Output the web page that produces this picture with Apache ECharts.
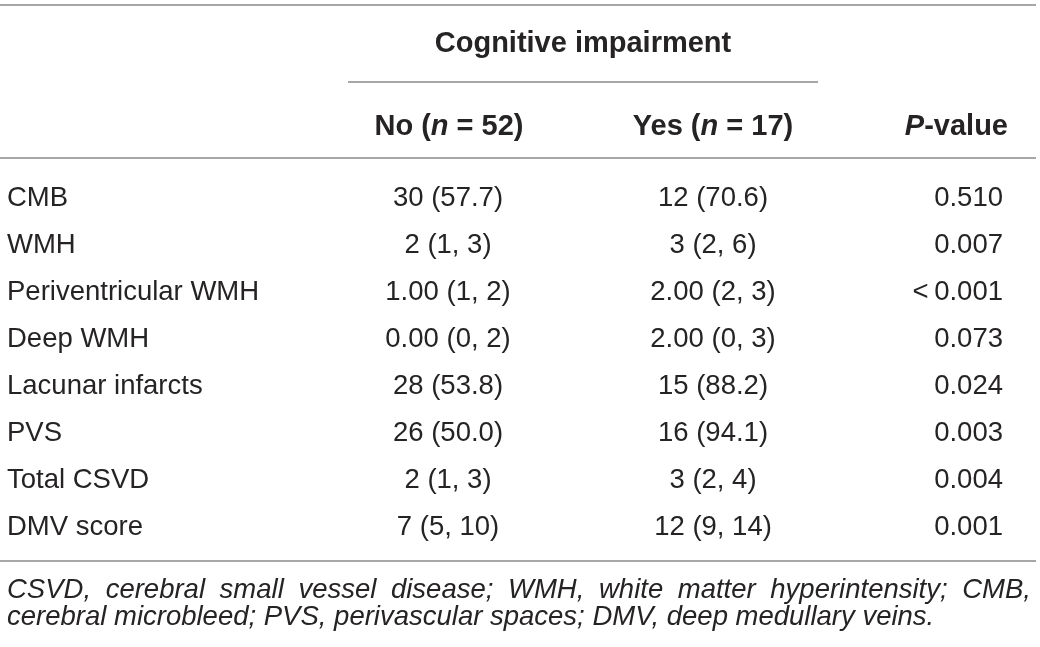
<!DOCTYPE html>
<html>
<head>
<meta charset="utf-8">
<script src="https://cdn.jsdelivr.net/npm/echarts@6/dist/echarts.min.js"></script>
<style>
  html, body { margin: 0; padding: 0; background: #fff; }
  #table_chart { width: 1040px; height: 647px; }
</style>
</head>
<body>
<div id="table_chart"></div>
<script>
// table content
const rowLabels = ['CMB', 'WMH', 'Periventricular WMH', 'Deep WMH', 'Lacunar infarcts', 'PVS', 'Total CSVD', 'DMV score'];
const noValues = ['30 (57.7)', '2 (1, 3)', '1.00 (1, 2)', '0.00 (0, 2)', '28 (53.8)', '26 (50.0)', '2 (1, 3)', '7 (5, 10)'];
const yesValues = ['12 (70.6)', '3 (2, 6)', '2.00 (2, 3)', '2.00 (0, 3)', '15 (88.2)', '16 (94.1)', '3 (2, 4)', '12 (9, 14)'];
const pValues = ['0.510', '0.007', '<\u20090.001', '0.073', '0.024', '0.003', '0.004', '0.001'];
const groupTitle = 'Cognitive impairment';
const groupNames = ['No', 'Yes'];
const groupN = [52, 17];
const footnoteLines = [
  'CSVD, cerebral small vessel disease; WMH, white matter hyperintensity; CMB,',
  'cerebral microbleed; PVS, perivascular spaces; DMV, deep medullary veins.'
];

const FAMILY = '"Liberation Sans", Arial, Helvetica, sans-serif';
const INK = '#262324';
const RULE = '#8a8a8a';
const colNo = 448, colYes = 713, colP = 1003;

let myChart = echarts.init(document.getElementById('table_chart'), null, {renderer: 'canvas'});

function hRule(x1, x2, y) {
  return {
    type: 'line',
    shape: {x1: x1, y1: y, x2: x2, y2: y},
    style: {stroke: RULE, lineWidth: 1.5}
  };
}

function txt(x, y, text, align, font, extra) {
  let style = Object.assign({
    text: text, font: font, fill: INK,
    align: align, verticalAlign: 'middle',
    textAlign: align, textVerticalAlign: 'middle'
  }, extra || {});
  return {type: 'text', x: x, y: y, style: style};
}

// justified footnote line, word by word
let measureCtx = document.createElement('canvas').getContext('2d');
const footFont = 'italic 27.5px ' + FAMILY;
measureCtx.font = footFont;
function justifiedLine(line, x0, x1, y) {
  let words = line.split(' ');
  let widths = words.map(w => measureCtx.measureText(w).width);
  let total = widths.reduce((a, b) => a + b, 0);
  let gap = (x1 - x0 - total) / (words.length - 1);
  let out = [];
  let x = x0;
  words.forEach((w, i) => {
    out.push(txt(x, y, w, 'left', footFont));
    x += widths[i] + gap;
  });
  return out;
}

const boldFont = 'bold 29px ' + FAMILY;
const headRich = {
  b: {font: boldFont, fill: INK},
  i: {font: 'italic bold 29px ' + FAMILY, fill: INK}
};

let graphics = [
  hRule(0, 1036, 5),
  hRule(348, 818, 82),
  hRule(0, 1036, 158),
  hRule(0, 1036, 561),
  txt(583, 44, groupTitle, 'center', boldFont),
  txt(colNo + 1, 127, '{b|' + groupNames[0] + ' (}{i|n}{b| = ' + groupN[0] + ')}', 'center', boldFont, {rich: headRich}),
  txt(colYes, 127, '{b|' + groupNames[1] + ' (}{i|n}{b| = ' + groupN[1] + ')}', 'center', boldFont, {rich: headRich}),
  txt(1008, 127, '{i|P}{b|-value}', 'right', boldFont, {rich: headRich})
];
graphics = graphics.concat(justifiedLine(footnoteLines[0], 7, 1031, 590));
graphics.push(txt(7, 617, footnoteLines[1], 'left', footFont));

const bodyFont = '27.5px ' + FAMILY;

myChart.setOption({
  animation: false,
  grid: {left: 0, right: 0, top: 174.5, bottom: 96.5},
  xAxis: {type: 'value', min: 0, max: 1040, show: false},
  yAxis: {
    type: 'category',
    inverse: true,
    data: rowLabels,
    axisLine: {show: false},
    axisTick: {show: false},
    splitLine: {show: false},
    axisLabel: {
      inside: true,
      interval: 0,
      margin: 7,
      align: 'left',
      color: INK,
      fontSize: 27.5,
      fontFamily: FAMILY
    }
  },
  graphic: graphics,
  series: [{
    type: 'custom',
    data: rowLabels.map((r, i) => [0, i]),
    encode: {x: 0, y: 1},
    renderItem: function (params, api) {
      let i = api.value(1);
      let y = api.coord([0, i])[1];
      return {
        type: 'group',
        children: [
          txt(api.coord([colNo, i])[0], y, noValues[i], 'center', bodyFont),
          txt(api.coord([colYes, i])[0], y, yesValues[i], 'center', bodyFont),
          txt(api.coord([colP, i])[0], y, pValues[i], 'right', bodyFont)
        ]
      };
    }
  }]
});
</script>
</body>
</html>
